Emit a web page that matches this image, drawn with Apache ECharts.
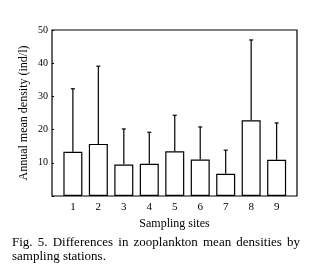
<!DOCTYPE html>
<html>
<head>
<meta charset="utf-8">
<script src="https://cdn.jsdelivr.net/npm/echarts@6/dist/echarts.min.js"></script>
<style>
html,body{margin:0;padding:0;background:#fff;}
#chart{width:331px;height:266px;}
</style>
</head>
<body>
<div id="chart"></div>
<script>
// sampling sites 1..9
var sites = [1, 2, 3, 4, 5, 6, 7, 8, 9];
// annual mean density (ind/l)
var means = [13.3, 15.7, 9.5, 9.7, 13.5, 11.0, 6.7, 22.8, 10.9];
// top of the error bar (mean + sd)
var upper = [32.3, 39.1, 20.2, 19.2, 24.3, 20.8, 13.8, 47.0, 22.0];
var yTicks = [10, 20, 30, 40, 50];

var serif = '"Liberation Serif", "DejaVu Serif", serif';
var capFont = '13px ' + serif;

var barData = sites.map(function (s, i) { return [s, means[i]]; });
var errData = sites.map(function (s, i) { return [s, means[i], upper[i]]; });

// caption, first line justified between x=12 and x=300 like the printed figure
function justify(line, x0, x1, y) {
	var ctx = document.createElement('canvas').getContext('2d');
	ctx.font = capFont;
	var words = line.split(' ');
	var total = 0;
	words.forEach(function (w) { total += ctx.measureText(w).width; });
	var gap = (x1 - x0 - total) / (words.length - 1);
	var x = x0, out = [];
	words.forEach(function (w) {
		out.push({ type: 'text', x: x, y: y, style: { text: w, font: capFont, fill: '#000', verticalAlign: 'middle' } });
		x += ctx.measureText(w).width + gap;
	});
	return out;
}
var caption = justify('Fig. 5. Differences in zooplankton mean densities by', 12, 300, 243);
caption.push({ type: 'text', x: 12, y: 257, style: { text: 'sampling stations.', font: capFont, fill: '#000', verticalAlign: 'middle' } });

var chart = echarts.init(document.getElementById('chart'));
chart.setOption({
	animation: false,
	backgroundColor: '#fff',
	grid: {
		left: 52, right: 34, top: 30, bottom: 70,
		show: true, borderColor: '#000', borderWidth: 1.2, backgroundColor: 'transparent'
	},
	xAxis: {
		type: 'value', min: 0.18, max: 9.8,
		name: 'Sampling sites', nameLocation: 'middle', nameGap: 22,
		nameTextStyle: { fontFamily: serif, fontSize: 12, color: '#000' },
		splitLine: { show: false },
		axisLine: { show: false },
		axisTick: { show: false },
		axisLabel: { customValues: sites, fontFamily: serif, fontSize: 11, color: '#000', margin: 6 }
	},
	yAxis: {
		type: 'value', min: 0, max: 50, interval: 10,
		name: 'Annual mean density (ind/l)', nameLocation: 'middle', nameGap: 22,
		nameMoveOverlap: false,
		nameTextStyle: { fontFamily: serif, fontSize: 12, color: '#000' },
		splitLine: { show: false },
		axisLine: { show: false },
		axisTick: { show: true, inside: true, length: 2, lineStyle: { color: '#000' } },
		axisLabel: {
			fontFamily: serif, fontSize: 10, color: '#000', margin: 4,
			formatter: function (v) { return yTicks.indexOf(v) >= 0 ? String(v) : ''; }
		}
	},
	series: [{
		type: 'bar',
		data: barData,
		barWidth: 19,
		itemStyle: { color: '#fff', borderColor: '#000', borderWidth: 1.2 }
	}, {
		type: 'custom',
		data: errData,
		z: 3,
		renderItem: function (params, api) {
			var x = api.value(0);
			var lo = api.coord([x, api.value(1)]);
			var hi = api.coord([x, api.value(2)]);
			var style = { stroke: '#000', lineWidth: 1.2 };
			return {
				type: 'group',
				children: [
					{ type: 'line', shape: { x1: lo[0], y1: lo[1], x2: hi[0], y2: hi[1] }, style: style },
					{ type: 'line', shape: { x1: hi[0] - 2, y1: hi[1], x2: hi[0] + 2, y2: hi[1] }, style: style }
				]
			};
		}
	}],
	graphic: caption
});
</script>
</body>
</html>
